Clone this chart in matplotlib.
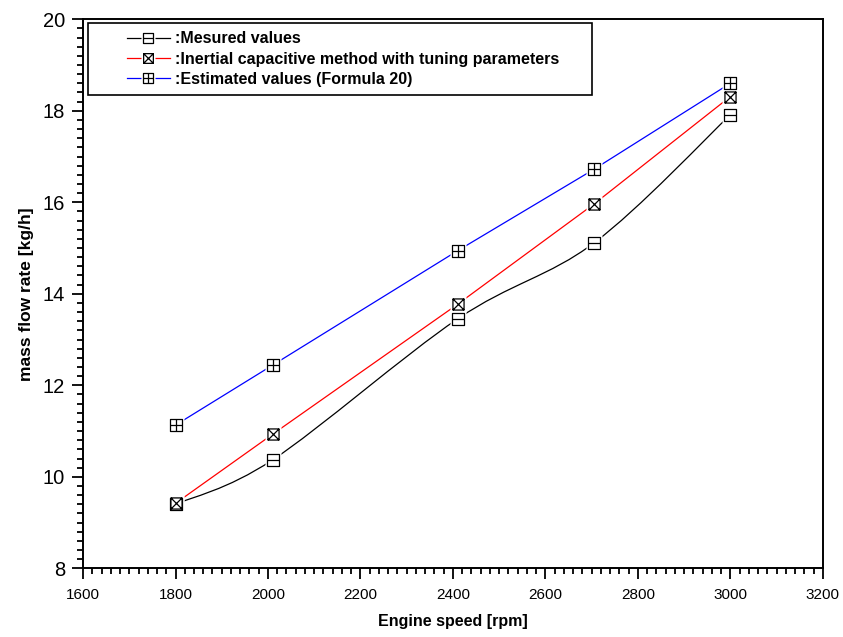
import matplotlib
matplotlib.use("Agg")
import matplotlib.pyplot as plt
from matplotlib.path import Path
from matplotlib.patches import PathPatch
from matplotlib.lines import Line2D
from matplotlib.legend_handler import HandlerTuple

plt.rcParams['font.family'] = ['Liberation Sans', 'DejaVu Sans']

speed = [1800, 2010, 2410, 2705, 3000]
measured = [9.40, 10.37, 13.45, 15.11, 17.91]
inertial = [9.42, 10.93, 13.77, 15.96, 18.31]
estimated = [11.13, 12.44, 14.94, 16.72, 18.60]

labels = [':Mesured values',
          ':Inertial capacitive method with tuning parameters',
          ':Estimated values (Formula 20)']

# square markers with inner strokes
sq = [(-1, -1), (1, -1), (1, 1), (-1, 1), (-1, -1)]
sq_codes = [Path.MOVETO] + [Path.LINETO] * 3 + [Path.CLOSEPOLY]
m_hline = Path(sq + [(-1, 0), (1, 0)], sq_codes + [Path.MOVETO, Path.LINETO])
m_cross = Path(sq + [(-1, -1), (1, 1), (-1, 1), (1, -1)],
               sq_codes + [Path.MOVETO, Path.LINETO, Path.MOVETO, Path.LINETO])
m_plus = Path(sq + [(-1, 0), (1, 0), (0, -1), (0, 1)],
              sq_codes + [Path.MOVETO, Path.LINETO, Path.MOVETO, Path.LINETO])


def smooth_path(xs, ys):
    # catmull-rom through the points, as bezier segments
    pts = list(zip(xs, ys))
    p = [pts[0]] + pts + [pts[-1]]
    verts = [pts[0]]
    codes = [Path.MOVETO]
    for i in range(1, len(p) - 2):
        p0, p1, p2, p3 = p[i - 1], p[i], p[i + 1], p[i + 2]
        c1 = (p1[0] + (p2[0] - p0[0]) / 6, p1[1] + (p2[1] - p0[1]) / 6)
        c2 = (p2[0] - (p3[0] - p1[0]) / 6, p2[1] - (p3[1] - p1[1]) / 6)
        verts += [c1, c2, p2]
        codes += [Path.CURVE4] * 3
    return Path(verts, codes)


class ShiftedTuple(HandlerTuple):
    # leave empty room on the left of the legend handle
    def __init__(self, shift, **kw):
        super().__init__(**kw)
        self.shift = shift

    def create_artists(self, legend, orig_handle, xdescent, ydescent,
                       width, height, fontsize, trans):
        s = self.shift * fontsize
        return super().create_artists(legend, orig_handle, xdescent - s,
                                      ydescent, width - s, height,
                                      fontsize, trans)


fig = plt.figure(figsize=(8.43, 6.37), dpi=100)
ax = fig.add_axes([0.0985, 0.1078, 0.8775, 0.862])

series = [(measured, 'black', m_hline, True),
          (inertial, 'red', m_cross, False),
          (estimated, 'blue', m_plus, False)]

handles = []
for vals, col, mk, smooth in series:
    if smooth:
        ax.add_patch(PathPatch(smooth_path(speed, vals), fill=False,
                               edgecolor=col, lw=0.9, zorder=2))
    else:
        ax.plot(speed, vals, color=col, lw=0.9, zorder=2)
    ax.plot(speed, vals, ls='none', marker='s', ms=11, mfc='white',
            mec='none', zorder=3)
    ax.plot(speed, vals, ls='none', marker=mk, ms=8, mfc='white',
            mec='black', mew=0.9, zorder=4)
    h = (Line2D([], [], color=col, lw=0.9),
         Line2D([], [], ls='none', marker='s', ms=9.5, mfc='white', mec='none'),
         Line2D([], [], ls='none', marker=mk, ms=7, mfc='white',
                mec='black', mew=0.9))
    handles.append(h)

ax.set_xlim(1600, 3200)
ax.set_ylim(8, 20)
ax.set_xticks(range(1600, 3201, 200))
ax.set_xticks(range(1600, 3201, 20), minor=True)
ax.set_yticks(range(8, 21, 2))
ax.set_yticks([8 + 0.2 * i for i in range(61)], minor=True)

ax.tick_params(which='both', direction='out', width=1.3, color='black')
ax.tick_params(which='major', length=8)
ax.tick_params(which='minor', length=4)
ax.tick_params(axis='x', which='major', labelsize=11, pad=6)
ax.tick_params(axis='y', which='major', labelsize=14.5, pad=5)
ax.tick_params(top=False, right=False, which='both')
for s in ax.spines.values():
    s.set_linewidth(1.4)

ax.set_xlabel('Engine speed [rpm]', fontsize=11.5, fontweight='bold', labelpad=9)
ax.set_ylabel('mass flow rate [kg/h]', fontsize=12.5, fontweight='bold', labelpad=6)

leg = ax.legend(handles, labels,
                handler_map={tuple: ShiftedTuple(1.95, ndivide=1)},
                loc='upper left', bbox_to_anchor=(0.0068, 0.866, 0.681, 0.1267),
                mode='expand', borderaxespad=0, borderpad=0.5, handlelength=4.6,
                handletextpad=0.35, labelspacing=0.33, fancybox=False,
                edgecolor='black', framealpha=1,
                prop={'size': 11.5, 'weight': 'bold'})
leg.get_frame().set_linewidth(1.2)

fig.savefig('out.png', dpi=100)
